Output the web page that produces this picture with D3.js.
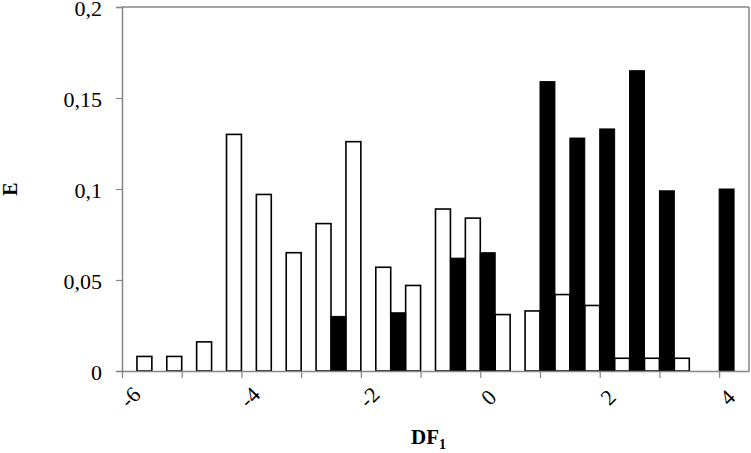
<!DOCTYPE html>
<html>
<head>
<meta charset="utf-8">
<script src="https://cdn.jsdelivr.net/npm/d3@7"></script>
<style>
  html, body { margin: 0; padding: 0; background: #fff; }
  svg { display: block; }
  text { font-family: "Liberation Serif", "Times New Roman", serif; fill: #000; }
</style>
</head>
<body>
<svg id="chart" width="751" height="453"></svg>
<script>
// Bin centres on DF1
const categories = [-5.5, -5, -4.5, -4, -3.5, -3, -2.5, -2, -1.5, -1, -0.5, 0, 0.5, 1, 1.5, 2, 2.5, 3, 3.5, 4];
// White (open) series
const whiteValues = [0.008, 0.008, 0.016, 0.130, 0.097, 0.065, 0.081, 0.126, 0.057, 0.047, 0.089, 0.084, 0.031, 0.033, 0.042, 0.036, 0.007, 0.007, 0.007, 0];
// Black (filled) series
const blackValues = [0, 0, 0, 0, 0, 0, 0.030, 0, 0.032, 0, 0.062, 0.065, 0, 0.159, 0.128, 0.133, 0.165, 0.099, 0, 0.100];
const xTickValues = [-6, -5, -4, -3, -2, -1, 0, 1, 2, 3, 4];
const xLabelValues = [-6, -4, -2, 0, 2, 4];
const yTickValues = [0, 0.05, 0.1, 0.15, 0.2];

(function () {
const svg = d3.select("#chart");
const mLeft = 122, mRight = 749, mTop = 7, mBottom = 371;
const axisColor = "#868686";

const x = d3.scaleLinear().domain([-6, 4.5]).range([mLeft, mRight]);
const y = d3.scaleLinear().domain([0, 0.2]).range([mBottom, mTop]);
const fmt = v => String(v).replace(".", ",");
const halfBin = 0.25;

// frame (top + right)
svg.append("line").attr("x1", mLeft).attr("x2", mRight).attr("y1", mTop).attr("y2", mTop)
  .attr("stroke", axisColor).attr("stroke-width", 1.5);
svg.append("line").attr("x1", mRight).attr("x2", mRight).attr("y1", mTop).attr("y2", mBottom)
  .attr("stroke", axisColor).attr("stroke-width", 1.5);

// bars
const g = svg.append("g");
g.selectAll("rect.white").data(categories.map((c, i) => ({c, v: whiteValues[i]})).filter(d => d.v > 0))
  .join("rect").attr("class", "white")
  .attr("x", d => x(d.c - halfBin))
  .attr("width", d => x(d.c) - x(d.c - halfBin))
  .attr("y", d => y(d.v))
  .attr("height", d => y(0) - y(d.v))
  .attr("fill", "#fff").attr("stroke", "#000").attr("stroke-width", 1.6);
g.selectAll("rect.black").data(categories.map((c, i) => ({c, v: blackValues[i]})).filter(d => d.v > 0))
  .join("rect").attr("class", "black")
  .attr("x", d => x(d.c))
  .attr("width", d => x(d.c + halfBin) - x(d.c))
  .attr("y", d => y(d.v))
  .attr("height", d => y(0) - y(d.v))
  .attr("fill", "#000").attr("stroke", "#000").attr("stroke-width", 1);

// y axis
const yAxis = svg.append("g").attr("transform", `translate(${mLeft},0)`)
  .call(d3.axisLeft(y).tickValues(yTickValues).tickFormat(fmt).tickSize(6).tickPadding(14));
yAxis.select(".domain").attr("stroke", axisColor).attr("stroke-width", 1.5);
yAxis.selectAll(".tick line").attr("stroke", axisColor).attr("stroke-width", 1.2);
yAxis.selectAll(".tick text").attr("font-size", 22).attr("dy", "0.4em")
  .attr("font-family", "'Liberation Serif', 'Times New Roman', serif").attr("fill", "#000");

// x axis
const xAxis = svg.append("g").attr("transform", `translate(0,${mBottom})`)
  .call(d3.axisBottom(x).tickValues(xTickValues).tickFormat("").tickSize(7).tickSizeOuter(0));
xAxis.select(".domain").attr("stroke", axisColor).attr("stroke-width", 1.5);
xAxis.selectAll(".tick line").attr("stroke", axisColor).attr("stroke-width", 1.2);

svg.append("g").selectAll("text").data(xLabelValues).join("text")
  .attr("transform", d => `translate(${x(d) + 10},${mBottom + 28}) rotate(-45)`)
  .attr("text-anchor", "middle").attr("dominant-baseline", "middle")
  .attr("font-size", 22).text(d => String(d));

// axis titles
svg.append("text").attr("transform", "translate(17,189) rotate(-90)")
  .attr("text-anchor", "middle").attr("font-size", 20).attr("font-weight", "bold").text("E");
const xt = svg.append("text").attr("x", 411).attr("y", 444)
  .attr("font-size", 21).attr("font-weight", "bold");
xt.append("tspan").text("DF");
xt.append("tspan").attr("font-size", 14).attr("dy", 5).text("1");
})();
</script>
</body>
</html>
